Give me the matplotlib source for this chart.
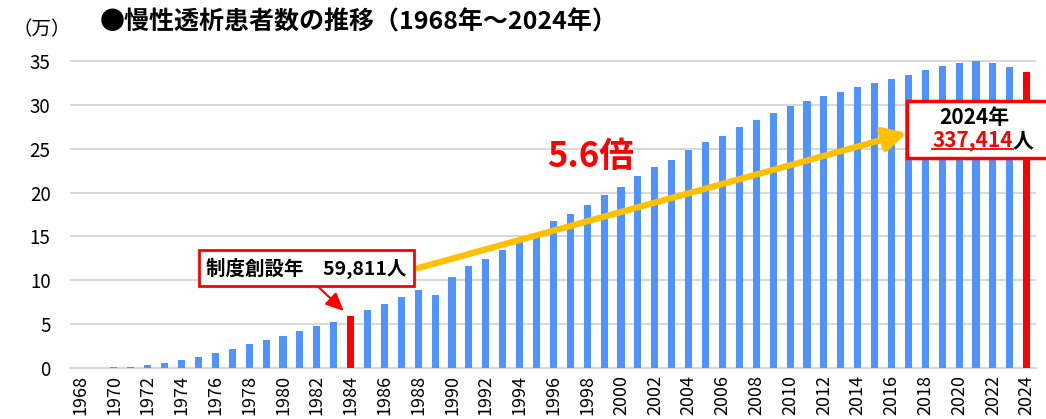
import matplotlib
matplotlib.use("Agg")
import matplotlib.pyplot as plt
from matplotlib.patches import Rectangle
from matplotlib.lines import Line2D

plt.rcParams['font.family'] = ['Noto Sans CJK JP', 'DejaVu Sans']

# 慢性透析患者数（万人）
years = list(range(1968, 2025))
patients = [0.02, 0.04, 0.09, 0.12, 0.30, 0.55, 0.88, 1.23, 1.73, 2.19,
            2.69, 3.15, 3.64, 4.21, 4.80, 5.30, 5.98, 6.63, 7.35, 8.06,
            8.85, 8.30, 10.33, 11.63, 12.39, 13.43, 14.37, 15.44, 16.72, 17.60,
            18.53, 19.72, 20.61, 21.92, 22.95, 23.77, 24.82, 25.78, 26.45, 27.52,
            28.26, 29.07, 29.83, 30.49, 30.99, 31.42, 32.04, 32.50, 32.96, 33.45,
            33.98, 34.46, 34.77, 34.97, 34.75, 34.35, 33.74]
highlight = [1984, 2024]
yticks = [0, 5, 10, 15, 20, 25, 30, 35]
xticks = list(range(1968, 2025, 2))

blue = '#4F93FF'
red = '#FF0000'
gold = '#FFC000'

fig = plt.figure(figsize=(10.46, 4.19), dpi=100)
ax = fig.add_axes([70/1046, 51/419, 966/1046, (368-59.3)/419])

colors = [red if y in highlight else blue for y in years]
ax.bar(years, patients, width=0.42, color=colors, zorder=3, clip_on=False)

ax.set_xlim(1967.4, 2024.55)
ax.set_ylim(0, 35.2)
ax.set_yticks(yticks)
ax.set_xticks(xticks)
ax.set_xticklabels([str(x) for x in xticks], rotation=90, fontsize=13)
ax.tick_params(axis='y', labelsize=13.5, length=0, pad=14)
ax.tick_params(axis='x', length=0, pad=5)
ax.grid(axis='y', color='#D9D9D9', linewidth=1.5, zorder=0)
for s in ['top', 'right', 'left']:
    ax.spines[s].set_visible(False)
ax.spines['bottom'].set_color('#D9D9D9')
ax.spines['bottom'].set_linewidth(1.5)

fig.text(12/1046, 1 - 30/419, '（万）', fontsize=14, va='center', ha='left')
fig.text(100/1046, 1 - 22/419, '●慢性透析患者数の推移（1968年～2024年）',
         fontsize=18, fontweight='bold', va='center', ha='left')

# 制度創設年 の枠と矢印
ax.annotate('', xy=(1983.6, 6.5), xytext=(1981.9, 9.6),
            arrowprops=dict(arrowstyle='-|>,head_width=0.5,head_length=1.1',
                            color=red, lw=1.5, shrinkA=0, shrinkB=0), zorder=6)
ax.text(1981.4, 11.4, '制度創設年　59,811人', fontsize=14, fontweight='bold',
        ha='center', va='center', zorder=7,
        bbox=dict(boxstyle='square,pad=0.38', fc='white', ec=red, lw=2))

# 黄色の矢印
ax.annotate('', xy=(2016.9, 26.8), xytext=(1988.0, 11.4),
            arrowprops=dict(arrowstyle='-|>,head_width=0.7,head_length=1.3',
                            color=gold, lw=4.5, shrinkA=0, shrinkB=0), zorder=5)
ax.text(1998.2, 24.1, '5.6倍', fontsize=25, fontweight='bold', color=red,
        ha='center', va='center', zorder=7)

# 2024年 の枠
box = Rectangle((2016.9, 23.94), 11, 6.5, fc='white', ec=red, lw=2.5,
                zorder=6, clip_on=False)
ax.add_patch(box)
ax.text(2020.9, 28.6, '2024年', fontsize=15, fontweight='bold',
        ha='center', va='center', zorder=7)
num = ax.text(2023.17, 25.9, '337,414', fontsize=15, fontweight='bold',
              color=red, ha='right', va='center', zorder=7)
ax.text(2023.17, 25.9, '人', fontsize=15, fontweight='bold',
        ha='left', va='center', zorder=7)

fig.canvas.draw()
bb = num.get_window_extent()
fig.add_artist(Line2D([bb.x0 / 1046, bb.x1 / 1046],
                      [(bb.y0 + 2) / 419, (bb.y0 + 2) / 419],
                      color=red, lw=1.3, zorder=8))

fig.savefig('out.png', dpi=100)
